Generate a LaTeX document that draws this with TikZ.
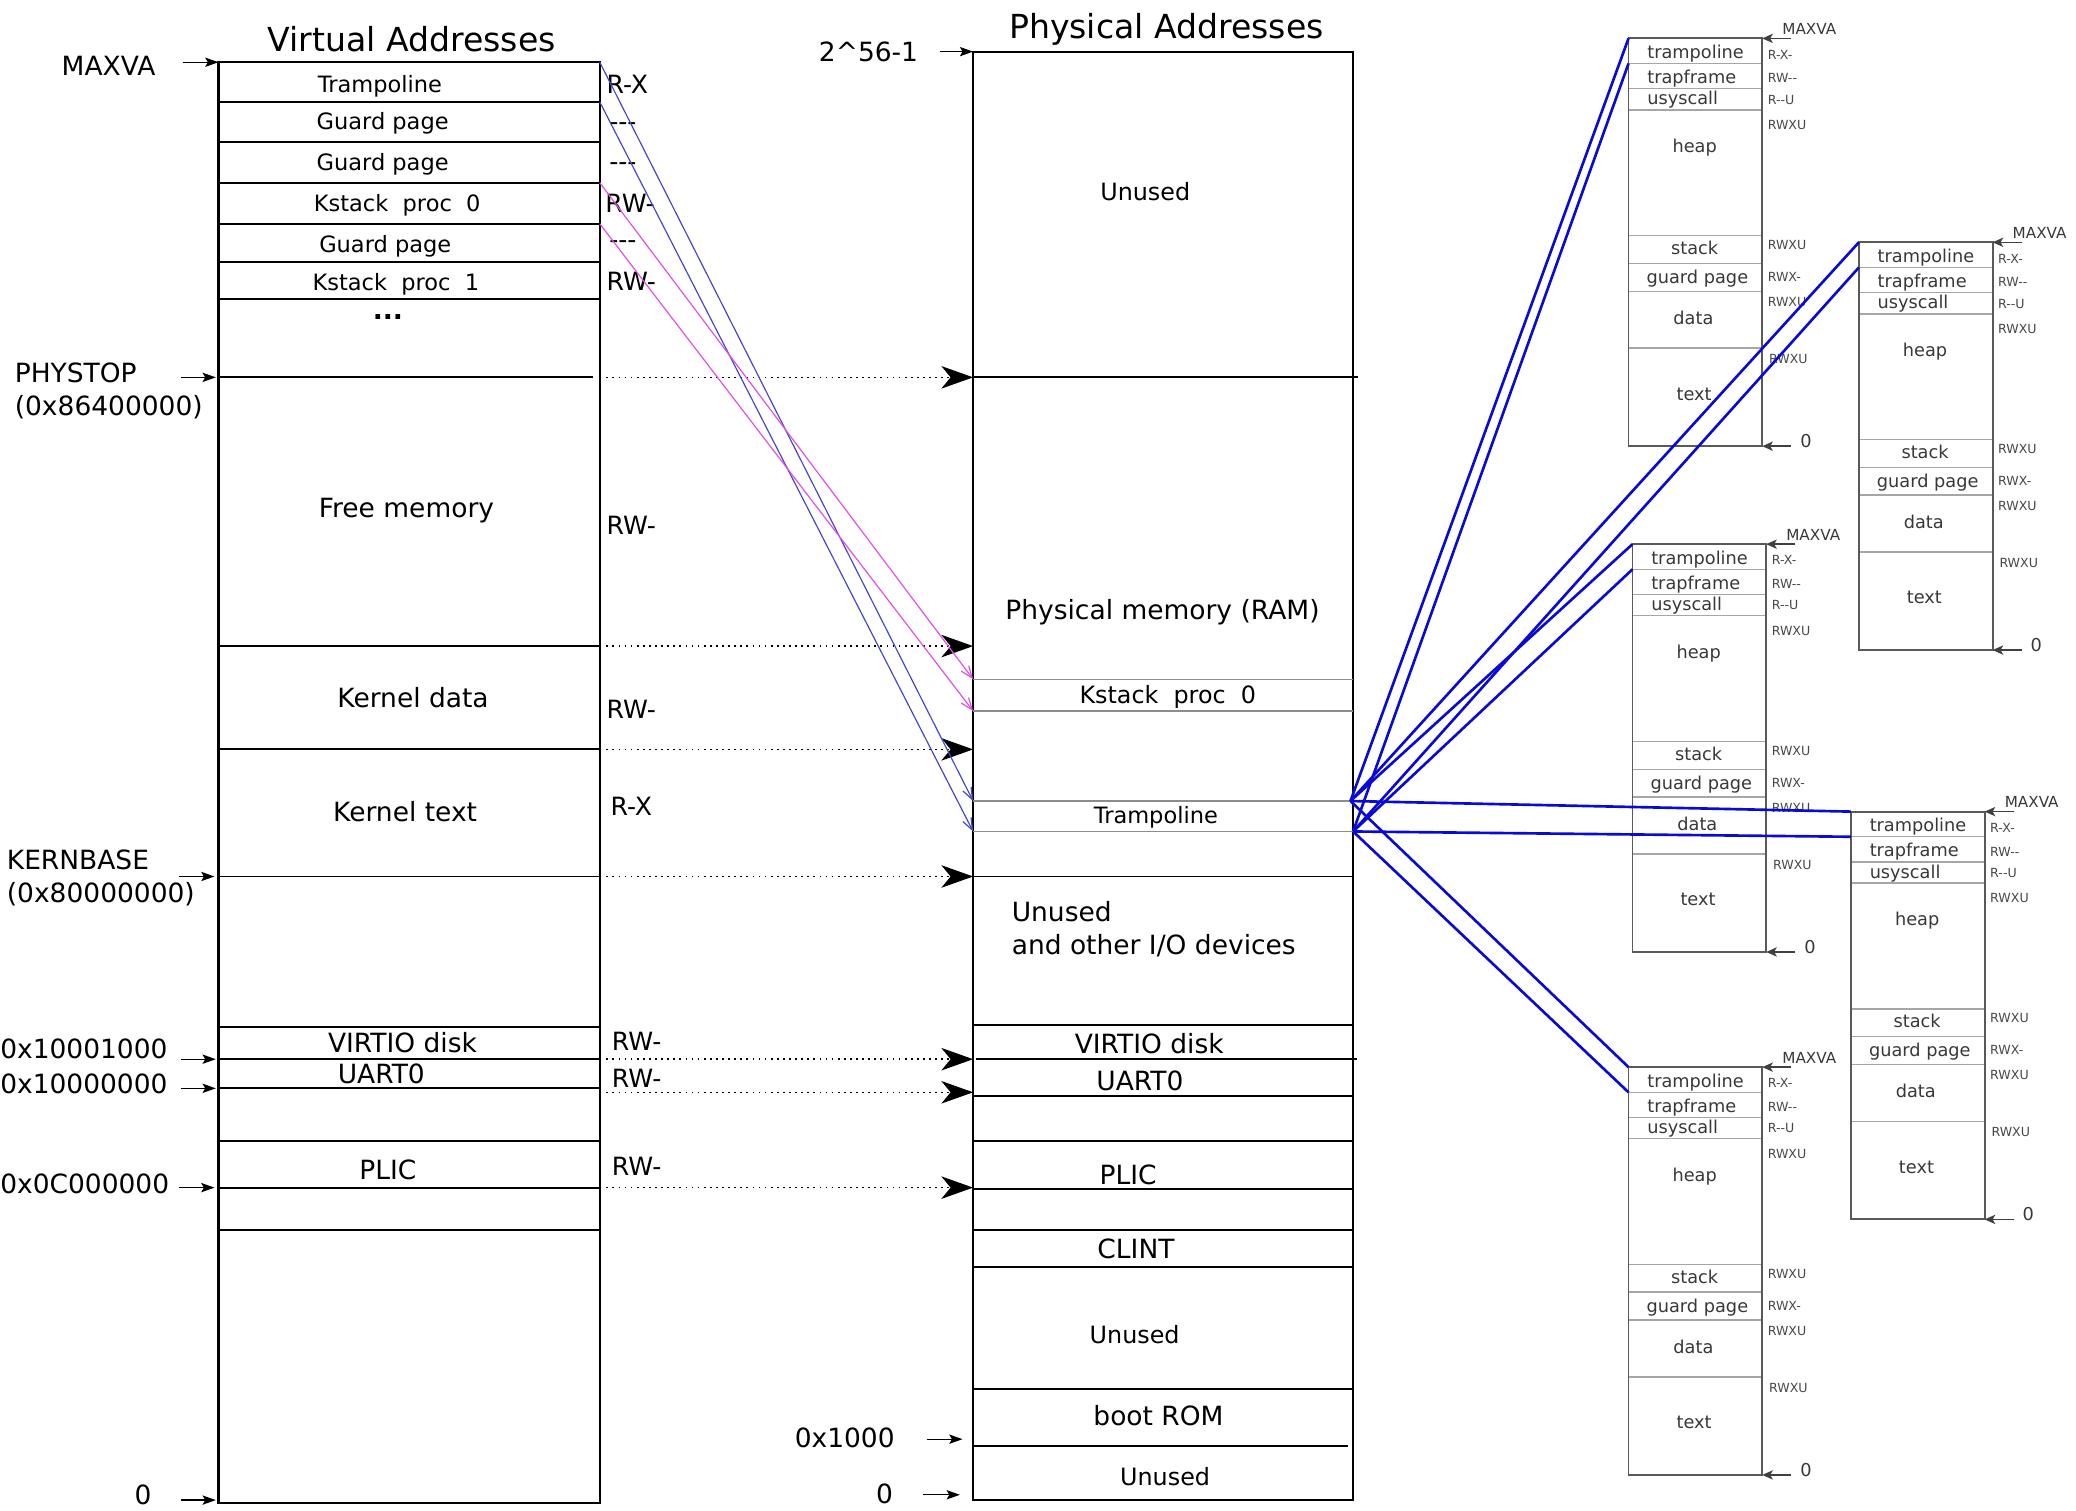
\documentclass[tikz,border=0pt]{standalone}
\usepackage{fontspec}
\setmainfont{DejaVu Sans}
\usetikzlibrary{arrows.meta}

\definecolor{mapblue}{RGB}{70,70,205}
\definecolor{mappink}{RGB}{225,80,225}
\definecolor{linkblue}{RGB}{10,10,215}

\tikzset{
  wall/.style={line width=1.7pt},
  rowline/.style={line width=1.4pt},
  pageline/.style={line width=0.8pt,black!45},
  headtext/.style={font=\fontsize{25}{28}\selectfont,inner sep=0pt,text height=0.73em,text depth=0pt,yshift=-5.5pt},
  boxtext/.style={font=\fontsize{20}{22}\selectfont,inner sep=0pt,text height=0.73em,text depth=0pt,yshift=-3pt},
  unusedtext/.style={font=\fontsize{18}{20}\selectfont,inner sep=0pt,text height=0.73em,text depth=0pt,yshift=-3pt},
  rowtext/.style={font=\fontsize{17}{19}\selectfont,inner sep=0pt,text height=0.73em,text depth=0pt,yshift=-3pt},
  permtext/.style={font=\fontsize{19}{21}\selectfont,inner sep=0pt,anchor=west,text height=0.73em,text depth=0pt,yshift=-3pt},
  addrarrow/.style={line width=1pt,-{Stealth[length=10pt,width=7pt,inset=2pt]}},
  pte/.style={line width=1.2pt,dash pattern=on 1.3pt off 3.3pt,-{Stealth[length=24pt,width=17pt,inset=7pt]}},
  vmap/.style={line width=0.9pt,-{Straight Barb[length=9pt,width=7pt]}},
  link/.style={line width=2pt,linkblue},
  procwall/.style={line width=1.4pt,black!65},
  procrow/.style={line width=1.1pt,black!35},
  proctext/.style={font=\fontsize{13.4}{15}\selectfont,text=black!78,inner sep=0pt,text height=0.73em,text depth=0pt,yshift=-1.5pt},
  procperm/.style={font=\fontsize{9.5}{11}\selectfont,text=black!72,inner sep=0pt,anchor=west,text height=0.73em,text depth=0pt,yshift=-1pt},
  procarrow/.style={line width=1.1pt,black!75,-{Stealth[length=8pt,width=7pt,inset=2pt]}},
}

\begin{document}
\begin{tikzpicture}[x=1pt,y=-1pt]
  \useasboundingbox (0,0) rectangle (1568,1141);

  % virtual address space
  \node[headtext] (vhead) at (311,30) {Virtual Addresses};
  \draw[wall] (165,47) rectangle (453,1135);
  \foreach \y in {77,107,138,169,198,226,488,566,662,776,800,822,862,897,929}
    \draw[rowline] (165,\y) -- (453,\y);
  \draw[rowline] (165,285) -- (448,285);

  \node[rowtext] (vtramp) at (287,63) {Trampoline};
  \node[rowtext] (vguard1) at (289,91) {Guard page};
  \node[rowtext] (vguard2) at (289,122) {Guard page};
  \node[rowtext] (vkstack0) at (300,153) {Kstack~~proc~~0};
  \node[rowtext] (vguard3) at (291,184) {Guard page};
  \node[rowtext] (vkstack1) at (299,213) {Kstack~~proc~~1};
  \node[font=\fontsize{20}{22}\selectfont,inner sep=0pt,anchor=base] (vdots) at (293,241) {\textbf{...}};
  \node[boxtext] (vfree) at (307,384) {Free memory};
  \node[boxtext] (vkdata) at (312,528) {Kernel data};
  \node[boxtext] (vktext) at (306,614) {Kernel text};
  \node[boxtext] (vvirtio) at (304,788) {VIRTIO disk};
  \node[boxtext] (vuart) at (288,812) {UART0};
  \node[boxtext] (vplic) at (293,884) {PLIC};

  % permissions
  \node[permtext] (p1) at (458,64) {R-X};
  \node[permtext] (p2) at (460,92) {-{}-{}-};
  \node[permtext] (p3) at (460,122) {-{}-{}-};
  \node[permtext] (p4) at (457,154) {RW-};
  \node[permtext] (p5) at (460,181) {-{}-{}-};
  \node[permtext] (p6) at (458,213) {RW-};
  \node[permtext] (p7) at (458,397) {RW-};
  \node[permtext] (p8) at (458,536) {RW-};
  \node[permtext] (p9) at (461,609) {R-X};
  \node[permtext] (p10) at (462,787) {RW-};
  \node[permtext] (p11) at (462,815) {RW-};
  \node[permtext] (p12) at (462,881) {RW-};

  % virtual addresses on the left
  \node[boxtext] (amaxva) at (82,50) {MAXVA};
  \node[boxtext,anchor=west] (aphys) at (11,282) {PHYSTOP};
  \node[boxtext,anchor=west] (aphysv) at (11,307) {(0x86400000)};
  \node[boxtext,anchor=west] (akern) at (5,650) {KERNBASE};
  \node[boxtext,anchor=west] (akernv) at (5,675) {(0x80000000)};
  \node[boxtext,anchor=west] (avirtio) at (0,793) {0x10001000};
  \node[boxtext,anchor=west] (auart) at (0,819) {0x10000000};
  \node[boxtext,anchor=west] (aplic) at (0,895) {0x0C000000};
  \node[boxtext] (azero) at (108,1130) {0};
  \coordinate (vmax) at (165,47);
  \coordinate (vphystop) at (163,285);
  \coordinate (vkernbase) at (162,662);
  \coordinate (vvirtioa) at (163,800);
  \coordinate (vuarta) at (163,822);
  \coordinate (vplica) at (162,897);
  \coordinate (vzero) at (163,1133);
  \draw[addrarrow] ([xshift=-27pt]vmax) -- (vmax);
  \draw[addrarrow] ([xshift=-26pt]vphystop) -- (vphystop);
  \draw[addrarrow] ([xshift=-27pt]vkernbase) -- (vkernbase);
  \draw[addrarrow] ([xshift=-26pt]vvirtioa) -- (vvirtioa);
  \draw[addrarrow] ([xshift=-26pt]vuarta) -- (vuarta);
  \draw[addrarrow] ([xshift=-27pt]vplica) -- (vplica);
  \draw[addrarrow] ([xshift=-26pt]vzero) -- (vzero);

  % physical address space
  \node[headtext] (phead) at (881,20) {Physical Addresses};
  \draw[wall] (735,39) rectangle (1022,1133);
  \foreach \y in {662,774,828,862,898,929,957,1049}
    \draw[rowline] (735,\y) -- (1022,\y);
  \draw[rowline] (735,285) -- (1026,285);
  \draw[rowline] (737,800) -- (1025,800);
  \draw[rowline] (735,1092) -- (1018,1092);
  \foreach \y in {513,537,605,628}
    \draw[pageline] (735,\y) -- (1022,\y);

  \node[unusedtext] (punused1) at (865,145) {Unused};
  \node[boxtext] (pram) at (878,461) {Physical memory (RAM)};
  \node[unusedtext] (pkstack) at (882,525) {Kstack~~proc~~0};
  \node[rowtext] (ptramp) at (873,615) {Trampoline};
  \node[boxtext,anchor=west] (punused2) at (764,689) {Unused};
  \node[boxtext,anchor=west] (pio) at (764,714) {and other I/O devices};
  \node[boxtext] (pvirtio) at (868,789) {VIRTIO disk};
  \node[boxtext] (puart) at (861,817) {UART0};
  \node[boxtext] (pplic) at (852,888) {PLIC};
  \node[boxtext] (pclint) at (858,944) {CLINT};
  \node[unusedtext] (punused3) at (857,1008) {Unused};
  \node[boxtext] (prom) at (875,1070) {boot ROM};
  \node[unusedtext] (punused4) at (880,1115) {Unused};

  \node[boxtext] (atop) at (656,40) {2\textasciicircum 56-1};
  \node[boxtext] (arom) at (638,1087) {0x1000};
  \node[boxtext] (apzero) at (668,1129) {0};
  \coordinate (ptopa) at (735,39);
  \coordinate (proma) at (727,1087);
  \coordinate (pzeroa) at (725,1129);
  \draw[addrarrow] ([xshift=-25pt]ptopa) -- (ptopa);
  \draw[addrarrow] ([xshift=-27pt]proma) -- (proma);
  \draw[addrarrow] ([xshift=-28pt]pzeroa) -- (pzeroa);

  % direct mappings
  \foreach \y/\z in {285/285,488/488,566/566,662/662,800/800,825/825,897/897}{
    \coordinate (v\y) at (458,\y);
    \coordinate (p\z) at (735,\z);
    \draw[pte] (v\y) -- (p\z);
  }

  % trampoline and kernel stack mappings
  \coordinate (vtramptop) at (453,47);
  \coordinate (vtrampbot) at (453,77);
  \coordinate (vkstop) at (453,138);
  \coordinate (vksbot) at (453,169);
  \coordinate (ptramptop) at (735,605);
  \coordinate (ptrampbot) at (735,628);
  \coordinate (pkstop) at (735,513);
  \coordinate (pksbot) at (735,537);
  \draw[vmap,mapblue] (vtramptop) -- (ptramptop);
  \draw[vmap,mapblue] (vtrampbot) -- (ptrampbot);
  \draw[vmap,mappink] (vkstop) -- (pkstop);
  \draw[vmap,mappink] (vksbot) -- (pksbot);

  % user address spaces
  \foreach \bx/\by/\nm in {1230/29/A,1404/183/B,1233/411/C,1398/613/D,1230/806/E}{
    \begin{scope}[shift={(\bx,\by)}]
      \coordinate (\nm top) at (0,0);
      \coordinate (\nm tramp) at (0,19);
      \foreach \ry in {19,38,54,149,170,191,234}
        \draw[procrow] (0,\ry) -- (101,\ry);
      \draw[procwall] (0,0) rectangle (101,308);
      \node[proctext,anchor=west] at (14,10) {trampoline};
      \node[proctext,anchor=west] at (14,29) {trapframe};
      \node[proctext,anchor=west] at (14,45) {usyscall};
      \node[proctext] at (50,81) {heap};
      \node[proctext] at (50,158) {stack};
      \node[proctext] at (52,180) {guard page};
      \node[proctext] at (49,211) {data};
      \node[proctext] at (49.5,268) {text};
      \node[procperm] at (105,11) {R-X-};
      \node[procperm] at (105,29) {RW-{}-};
      \node[procperm] at (105,45) {R-{}-U};
      \node[procperm] at (105,64) {RWXU};
      \node[procperm] at (105,155) {RWXU};
      \node[procperm] at (105,179) {RWX-};
      \node[procperm] at (105,198) {RWXU};
      \node[procperm] at (106,241) {RWXU};
      \coordinate (\nm max) at (101,0);
      \coordinate (\nm zero) at (101,308);
      \draw[procarrow] ([xshift=22pt]\nm max) -- (\nm max);
      \draw[procarrow] ([xshift=22pt]\nm zero) -- (\nm zero);
      \node[proctext,font=\fontsize{11.5}{13}\selectfont,anchor=west] at (116,-8) {MAXVA};
      \node[proctext] at (134,304) {0};
    \end{scope}
  }

  % trampoline page shared by every process
  \coordinate (ptop) at (1020,605);
  \coordinate (pbot) at (1022,628);
  \foreach \nm in {A,B,C,D,E}{
    \draw[link] (ptop) -- (\nm top);
    \draw[link] (pbot) -- (\nm tramp);
  }
\end{tikzpicture}
\end{document}
